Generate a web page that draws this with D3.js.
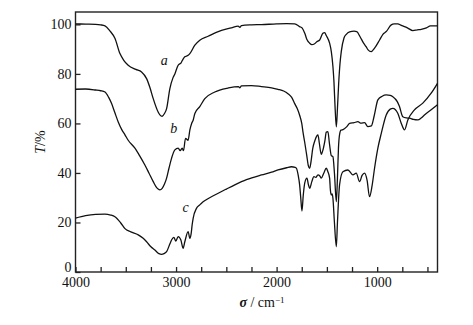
<!DOCTYPE html>
<html>
<head>
<meta charset="utf-8">
<script src="https://cdn.jsdelivr.net/npm/d3@7"></script>
<style>
  body { margin: 0; background: #fff; }
  text { font-family: "Liberation Serif", "DejaVu Serif", serif; fill: #111; }
</style>
</head>
<body>
<svg id="chart" width="473" height="325"></svg>
<script>
// IR transmittance spectra, [wavenumber, T%]
var seriesA = [
  [4000,100.2],[3900,100.1],[3800,100],[3750,99.8],[3707,99.4],[3660,97.5],[3607,94.3],[3558,88.2],
  [3520,85.5],[3476,83.5],[3400,81.8],[3343,80.8],[3293,78.1],[3260,74.5],[3227,70],[3178,64.6],
  [3150,63],[3138,62.9],[3115,64],[3094,66],[3062,74],[3030,78.5],[3012,80],[2990,82.5],[2979,83.5],
  [2950,84.5],[2930,86],[2913,86.9],[2880,87.5],[2863,88.2],[2813,91.6],[2764,93.6],[2681,95.2],
  [2600,96.8],[2548,97.6],[2450,98.6],[2383,99.3],[2365,98.8],[2350,99.5],[2250,99.8],[2151,99.9],
  [2000,100.2],[1900,100.3],[1820,100.2],[1771,99.1],[1745,98.5],[1720,96.4],[1700,94],[1671,92.4],
  [1650,91.8],[1622,92.2],[1600,93],[1572,93.7],[1540,96.4],[1522,96.7],[1506,95.5],[1473,92.4],
  [1456,89],[1440,83],[1430,77],[1418,66],[1406,58.6],[1395,66],[1383,76],[1370,84],[1357,89],
  [1330,94.5],[1307,96],[1274,97],[1230,97.3],[1203,97.1],[1170,95],[1135,92.4],[1110,91],
  [1090,89.7],[1060,89],[1026,90.4],[976,93.7],[943,96],[910,97.1],[860,99.8],[830,100.2],
  [795,100.2],[760,99.6],[728,99.1],[695,98.5],[645,97.5],[600,97.8],[562,98],[510,98.6],
  [470,99.4],[400,99.4]
];
var seriesB = [
  [4000,73.8],[3900,73.9],[3800,73.5],[3750,73.2],[3707,72.7],[3670,70.5],[3641,68],[3610,64.5],
  [3575,60.6],[3540,57.5],[3508,55.4],[3476,53.2],[3409,50],[3360,46.8],[3310,43.2],[3270,40],
  [3227,36.5],[3200,34.5],[3178,33.5],[3160,33.2],[3138,33.8],[3115,35.5],[3094,37.9],[3070,42],
  [3045,45.9],[3012,49.3],[2979,50],[2959,49],[2939,50],[2926,49],[2906,54],[2880,53.2],
  [2863,57.3],[2845,60],[2830,61.3],[2813,64],[2764,66.8],[2714,70],[2615,72.7],[2483,74.3],
  [2380,74.9],[2365,74.4],[2350,75.2],[2250,75.3],[2151,74.9],[2050,74.4],[1986,73.8],[1930,73.1],
  [1887,72],[1850,70.5],[1820,68],[1795,66],[1771,63.3],[1750,60],[1738,56.6],[1721,52.5],
  [1700,47],[1685,43],[1671,41.9],[1660,44],[1640,50],[1620,53],[1600,55],[1589,55.4],[1575,52],
  [1556,47.5],[1545,48.5],[1520,53],[1506,56.5],[1490,56.7],[1475,52],[1456,47],[1440,46.6],
  [1425,40],[1406,28.4],[1395,38],[1385,50],[1374,55.5],[1360,57.3],[1340,57.5],[1307,58.5],
  [1274,60],[1230,60.3],[1192,60.7],[1160,60.1],[1125,60.3],[1093,58.7],[1058,59],[1030,63],
  [993,69.5],[950,71],[910,71.5],[870,71.3],[844,70.8],[800,68.8],[778,66.8],[745,62.7],
  [710,62.2],[678,62.1],[640,61.6],[596,61.4],[560,62.3],[530,63.4],[463,65.5],[400,67.5]
];
var seriesC = [
  [4000,21.8],[3900,22.8],[3800,23.3],[3707,23.4],[3650,23],[3608,22.3],[3550,19.8],[3508,17.5],
  [3450,16.2],[3376,15],[3327,13.6],[3293,12.2],[3250,10.2],[3211,8.9],[3170,7.4],[3144,7.1],
  [3120,7.4],[3094,8.2],[3060,11.5],[3045,12.9],[3022,14],[3002,12.5],[2979,14.3],[2952,12.9],
  [2930,9.6],[2913,12.2],[2880,16.3],[2863,13.6],[2850,15.5],[2840,19],[2830,21.7],[2797,25.7],
  [2764,27.1],[2747,27.8],[2700,29.2],[2615,31.1],[2500,33.5],[2416,35.2],[2300,37.3],[2151,39.2],
  [2050,40.3],[1986,41.2],[1900,42.1],[1853,42.5],[1815,42.3],[1803,41.9],[1785,39],[1771,35.2],
  [1760,30],[1748,24.6],[1735,31],[1720,36],[1698,37.9],[1685,35.5],[1671,33.8],[1650,36.5],
  [1629,38.5],[1610,38.2],[1589,39.2],[1570,38.8],[1556,37.9],[1530,40],[1506,41.9],[1490,40.5],
  [1473,37.9],[1465,33],[1456,31.1],[1448,31.5],[1440,29.8],[1425,20],[1406,10.2],[1395,20],
  [1374,35.2],[1341,40.5],[1291,41.2],[1241,39.2],[1208,39.9],[1175,36.5],[1150,39],[1125,39.9],
  [1100,37],[1076,30.4],[1050,35],[1026,41.9],[993,50],[959,56],[910,63.4],[870,65.8],[844,66.1],
  [795,64.1],[761,60.1],[728,57.4],[695,61.4],[629,65.5],[546,68.2],[463,72.2],[400,76.2]
];
var seriesNames = ["a", "b", "c"];
var labelSpots = [[3118, 85.1], [3022, 57.9], [2906, 26]];   // where the letters sit, data units
var xMajorTicks = [4000, 3000, 2000, 1000];
var yTicks = [0, 20, 40, 60, 80, 100];

var svg = d3.select("#chart");
var margin = {top: 12, right: 35.5, bottom: 53, left: 75.5};
var width = 473 - margin.left - margin.right,
    height = 325 - margin.top - margin.bottom;

var g = svg.append("g")
  .attr("transform", "translate(" + margin.left + "," + margin.top + ")");

var x = d3.scaleLinear().domain([4000, 400]).range([0, width]);
var y = d3.scaleLinear().domain([0, 105]).range([height, 0]);

// frame
g.append("rect")
  .attr("width", width).attr("height", height)
  .attr("fill", "none").attr("stroke", "#222").attr("stroke-width", 1.4);

var xTickVals = d3.range(4000, 400, -250);
var xAxis = d3.axisBottom(x).tickValues(xTickVals).tickSizeInner(-5).tickSizeOuter(0).tickPadding(5)
  .tickFormat(function(d) { return xMajorTicks.indexOf(d) >= 0 ? d : ""; });
var xg = g.append("g").attr("transform", "translate(0," + height + ")").call(xAxis);
xg.select(".domain").remove();
xg.selectAll(".tick line").attr("stroke", "#222").attr("stroke-width", 1.3);
xg.selectAll("text").style("font-size", "14px").attr("fill", "#111");

var yAxis = d3.axisLeft(y).tickValues(yTicks).tickSizeInner(-5).tickSizeOuter(0).tickPadding(4);
var yg = g.append("g").call(yAxis);
yg.select(".domain").remove();
yg.selectAll(".tick line").attr("stroke", "#222").attr("stroke-width", 1.3);
yg.selectAll("text").style("font-size", "14px").attr("fill", "#111");
// the zero label sits a little above the corner
yg.selectAll(".tick").filter(function(d) { return d === 0; })
  .select("text").attr("dy", "-0.05em");

var line = d3.line()
  .x(function(d) { return x(d[0]); })
  .y(function(d) { return y(d[1]); })
  .curve(d3.curveMonotoneX);

[seriesA, seriesB, seriesC].forEach(function(s) {
  g.append("path").datum(s)
    .attr("d", line)
    .attr("fill", "none").attr("stroke", "#111").attr("stroke-width", 1.3)
    .attr("stroke-linejoin", "round");
});

g.selectAll(".curve-label")
  .data(seriesNames)
  .enter().append("text")
    .attr("class", "curve-label")
    .attr("x", function(d, i) { return x(labelSpots[i][0]); })
    .attr("y", function(d, i) { return y(labelSpots[i][1]); })
    .attr("text-anchor", "middle").attr("dy", "0.3em")
    .style("font-size", "14px").style("font-style", "italic")
    .text(function(d) { return d; });

// axis titles
var xt = svg.append("text")
  .attr("x", 262).attr("y", 307)
  .attr("text-anchor", "middle").style("font-size", "14px");
xt.append("tspan").style("font-style", "italic").style("font-weight", "bold").text("σ");
xt.append("tspan").text(" / cm");
xt.append("tspan").attr("dy", "-0.4em").style("font-size", "9px").text("−1");

svg.append("text")
  .attr("transform", "translate(45,142) rotate(-90)")
  .attr("text-anchor", "middle").style("font-size", "14px")
  .html('<tspan font-style="italic">T</tspan>/%');
</script>
</body>
</html>
